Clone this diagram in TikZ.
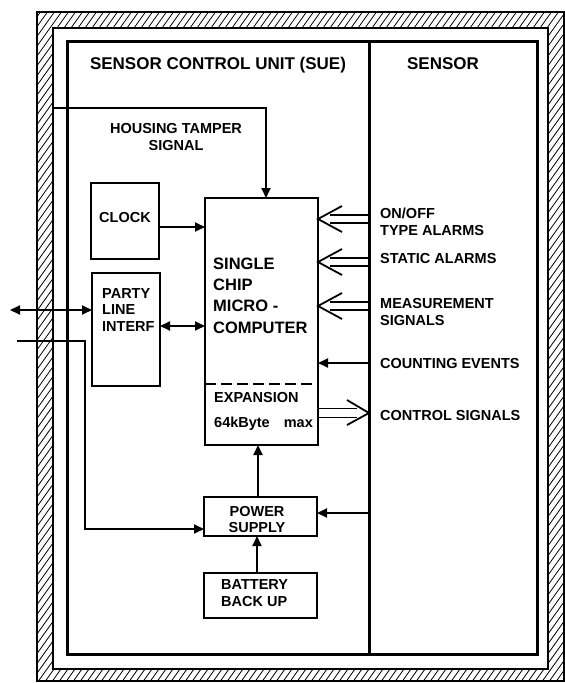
\documentclass[tikz,border=0pt]{standalone}
\usepackage{fontspec}
\setmainfont{Liberation Sans}
\usetikzlibrary{arrows.meta,calc}
\newcommand\mydblin[2]{%
  \draw[conn] ([yshift=4pt]#1) -- ([xshift=12pt,yshift=4pt]#2);
  \draw[conn] ([yshift=-4pt]#1) -- ([xshift=12pt,yshift=-4pt]#2);
  \draw[conn] ([xshift=24pt,yshift=13pt]#2) -- (#2) -- ([xshift=24pt,yshift=-13pt]#2);}
\newcommand\mydblout[2]{%
  \draw[conn] ([yshift=4.5pt]#1) -- ([xshift=-12pt,yshift=4.5pt]#2);
  \draw[conn] ([yshift=-4.5pt]#1) -- ([xshift=-12pt,yshift=-4.5pt]#2);
  \draw[conn] ([xshift=-22pt,yshift=13pt]#2) -- (#2) -- ([xshift=-22pt,yshift=-12pt]#2);}
\begin{document}
\begin{tikzpicture}[x=1pt,y=-1pt,
  box/.style={draw, line width=1.7pt, outer sep=0pt, inner sep=0pt, anchor=north west},
  lbl/.style={inner sep=0pt, font=\bfseries\fontsize{14.5}{17}\selectfont, align=left, anchor=base west},
  ttl/.style={inner sep=0pt, font=\bfseries\fontsize{17}{20}\selectfont, anchor=base},
  conn/.style={line width=1.8pt},
  arr/.style={conn, -{Triangle[length=10pt,width=9pt]}},
  darr/.style={conn, {Triangle[length=10pt,width=9pt]}-{Triangle[length=10pt,width=9pt]}},
  framel/.style={line width=3pt},
]
\useasboundingbox (0,0) rectangle (565,683);
% hatched wall
\begin{scope}[even odd rule]
  \clip (37,12) rectangle (564,681) (53,28) rectangle (548,669);
  \foreach \i in {-500,-493,...,580} \draw[line width=0.8pt] (\i,690) -- (\i+493,0);
\end{scope}
\draw[line width=1.2pt] (37,12) rectangle (564,681);
\draw[line width=1.2pt] (53,28) rectangle (548,669);
% inner frame and divider
\draw[framel] (67,41) rectangle (537,654);
\coordinate (dtop) at (369,41);
\coordinate (dbot) at (369,654);
\draw[framel] (dtop) -- (dbot);
% titles
\node[ttl] (tsue) at (218,69) {SENSOR CONTROL UNIT (SUE)};
\node[ttl] (tsen) at (443,69) {SENSOR};
% boxes
\node[box, minimum width=68pt, minimum height=76pt] (clock) at (91,183) {};
\node[box, minimum width=68pt, minimum height=113pt] (party) at (92,273) {};
\node[box, minimum width=113pt, minimum height=247pt] (micro) at (205,198) {};
\node[box, minimum width=113pt, minimum height=39pt] (power) at (204,497) {};
\node[box, minimum width=113pt, minimum height=45pt] (batt) at (204,573) {};
% box texts (base anchor = last line)
\node[lbl, anchor=base] (tclock) at (125,222) {CLOCK};
\node[lbl, font=\bfseries\fontsize{14.5}{16.5}\selectfont] (tparty) at (102,331) {PARTY\\LINE\\INTERF};
\node[lbl, font=\bfseries\fontsize{16.5}{21.2}\selectfont] (tmicro) at (213,333) {SINGLE\\CHIP\\MICRO -\\COMPUTER};
\node[lbl] (texp) at (214,402) {EXPANSION};
\node[lbl] (tkb) at (214,427) {64kByte\hspace{14pt}max};
\node[lbl, align=center, anchor=base, font=\bfseries\fontsize{14.5}{16}\selectfont] (tpow) at (257,532) {POWER\\SUPPLY};
\node[lbl] (tbat) at (221,606) {BATTERY\\BACK UP};
% expansion dashed separator
\coordinate (dsh) at (205,384);
\draw[line width=2.8pt, dash pattern=on 11pt off 5pt] (dsh) -- (dsh -| micro.east);
% housing tamper signal
\coordinate (ht) at (53,108);
\coordinate (htb) at (266,108);
\draw[arr] (ht) -- (htb) -- (htb |- micro.north);
\node[lbl, align=center, anchor=base] (tht) at (176,150) {HOUSING TAMPER\\SIGNAL};
% clock to micro
\draw[arr] ([yshift=-6pt]clock.east) -- ([yshift=-6pt]clock.east -| micro.west);
% party line interface
\coordinate (ext1) at (10,310);
\draw[darr] (ext1) -- (ext1 -| party.west);
\draw[darr] ([yshift=3.5pt]party.east) -- ([yshift=3.5pt]party.east -| micro.west);
% external supply line to power
\coordinate (ext2) at (17,341);
\coordinate (pw) at (85,529);
\draw[arr] (ext2) -| (pw) -- (pw -| power.west);
% power
\draw[arr] ([xshift=-2.5pt]power.north) -- ([xshift=-2.5pt]power.north |- micro.south);
\draw[arr] ([xshift=-3.5pt]batt.north) -- ([xshift=-3.5pt]batt.north |- power.south);
\coordinate (dp) at (369,513);
\draw[arr] (dp) -- (dp -| power.east);
% sensor signals
\coordinate (s1) at (369,219);
\coordinate (t1) at (micro.east |- s1);
\mydblin{s1}{t1}
\coordinate (s2) at (369,262);
\coordinate (t2) at (micro.east |- s2);
\mydblin{s2}{t2}
\coordinate (s3) at (369,306);
\coordinate (t3) at (micro.east |- s3);
\mydblin{s3}{t3}
\coordinate (s4) at (369,363);
\draw[arr] (s4) -- (s4 -| micro.east);
\coordinate (s5) at (369,413);
\coordinate (t5) at (micro.east |- s5);
\mydblout{t5}{s5}
% sensor labels
\node[lbl] (l1) at (380,235) {ON/OFF\\TYPE ALARMS};
\node[lbl] (l2) at (380,263) {STATIC ALARMS};
\node[lbl] (l3) at (380,325) {MEASUREMENT\\SIGNALS};
\node[lbl] (l4) at (380,368) {COUNTING EVENTS};
\node[lbl] (l5) at (380,420) {CONTROL SIGNALS};
\end{tikzpicture}
\end{document}
